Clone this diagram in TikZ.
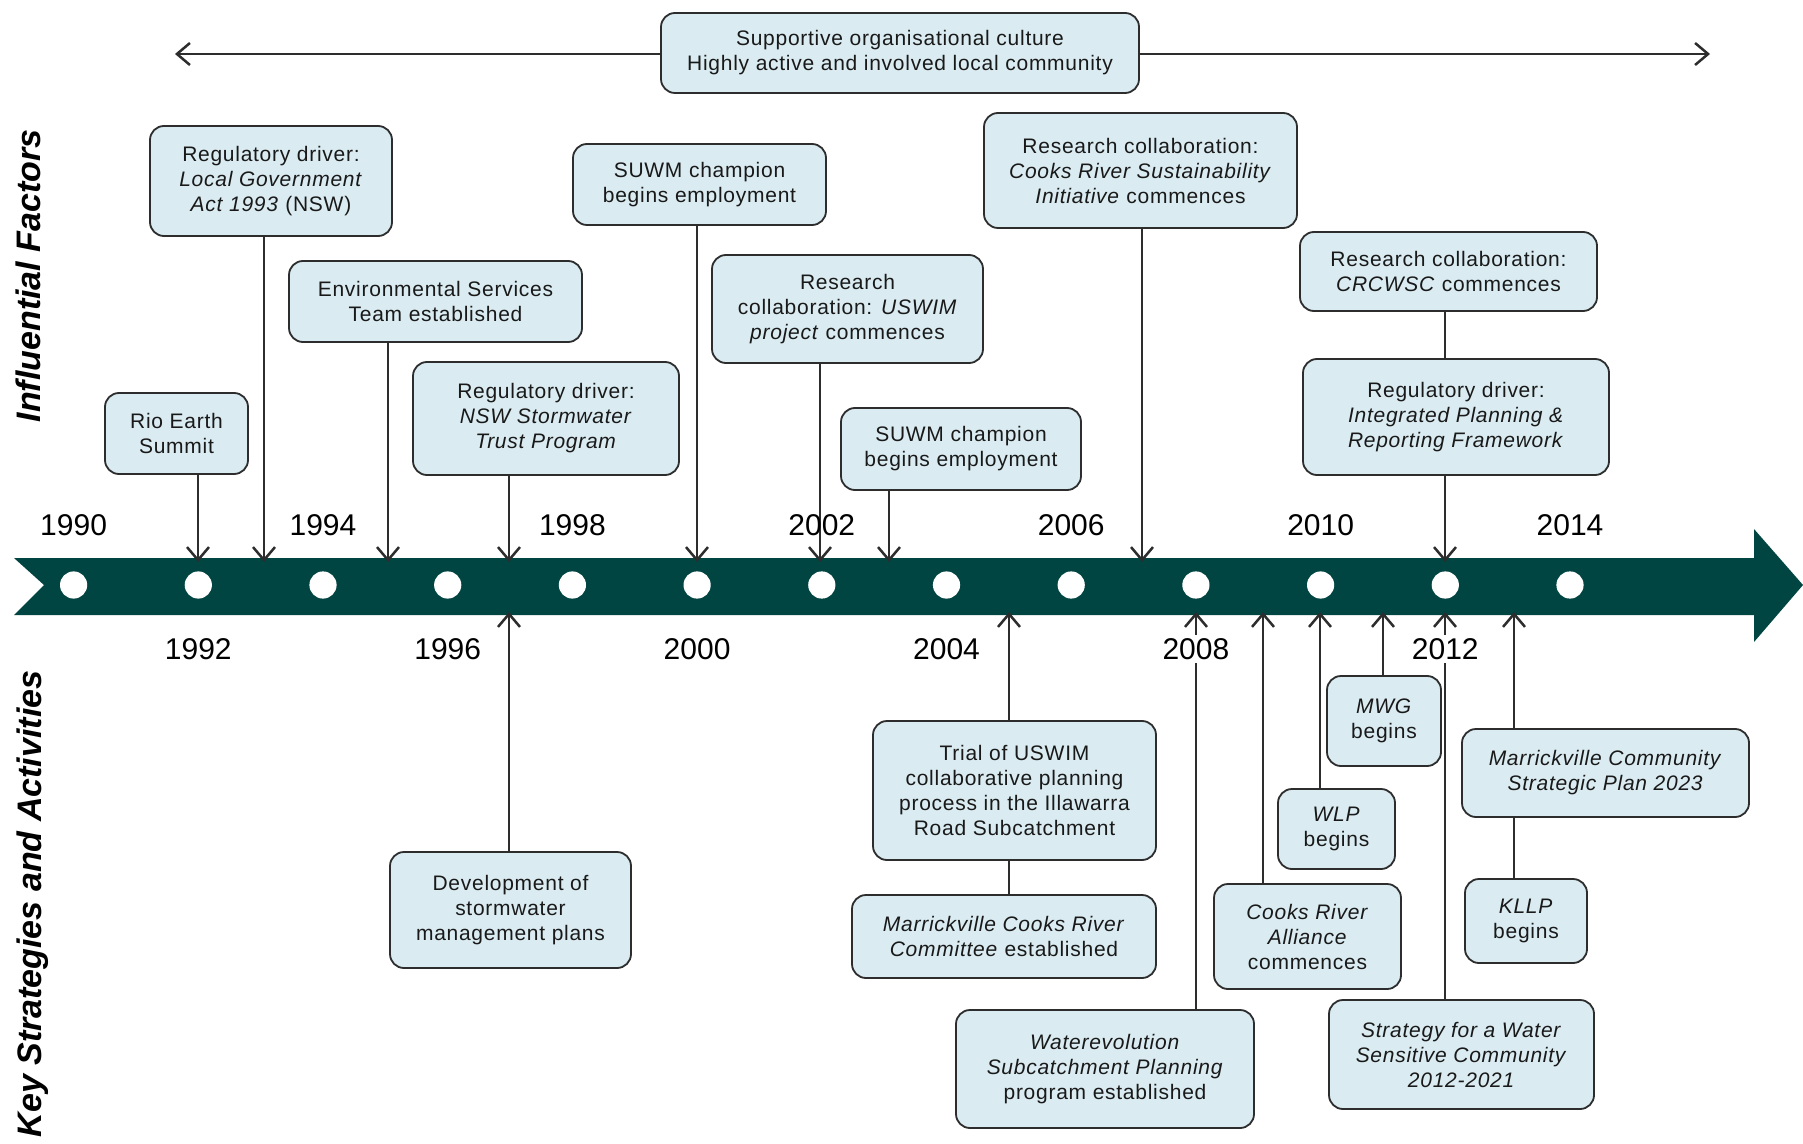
\documentclass[tikz,border=0pt]{standalone}
\usepackage{fontspec}
\setmainfont{Liberation Sans}
\newfontfamily\boxfont[LetterSpace=3.5]{Liberation Sans}
\usetikzlibrary{arrows.meta}
\definecolor{bandc}{RGB}{0,69,66}
\definecolor{boxfill}{RGB}{218,236,242}
\definecolor{boxline}{RGB}{45,45,45}
\definecolor{txt}{RGB}{25,25,25}
\begin{document}
\begin{tikzpicture}[x=0.5pt,y=-0.5pt,
  ev/.style={draw=boxline, fill=boxfill, rounded corners=7pt, line width=0.9pt, align=center,
    font=\boxfont\fontsize{10.5}{12.5}\selectfont, text=txt, inner sep=2pt},
  conn/.style={draw=boxline, line width=0.85pt},
  arr/.style={conn, -{Straight Barb[length=6.5pt,width=11pt,line width=1.25pt]}},
  yr/.style={font=\fontsize{15}{18}\selectfont, text=black, inner sep=1.5pt},
  side/.style={rotate=90, font=\fontsize{17}{20}\selectfont\bfseries\itshape}]
\useasboundingbox (0,0) rectangle (1803,1144);
\fill[white] (0,0) rectangle (1803,1144);
% band
\fill[bandc] (14,558) -- (1754,558) -- (1754,529) -- (1803,585) -- (1754,642) -- (1754,615) -- (14,615) -- (44,585) -- cycle;
\foreach \i in {0,...,12} {
  \fill[white] (73.6+124.7*\i,585) circle[radius=6.8pt];
}
% band coordinates
\coordinate (t92) at (198,562);
\coordinate (t93) at (264,562);
\coordinate (t95) at (388,562);
\coordinate (t97) at (509,562);
\coordinate (t00) at (697,562);
\coordinate (t02) at (820,562);
\coordinate (t03) at (889,562);
\coordinate (t07) at (1142,562);
\coordinate (t12) at (1445,562);
\coordinate (b97) at (509,612);
\coordinate (b05) at (1009,612);
\coordinate (b08) at (1196,612);
\coordinate (b09) at (1263,612);
\coordinate (b10) at (1320,612);
\coordinate (b11) at (1383,612);
\coordinate (b12) at (1445,612);
\coordinate (b13) at (1514,612);
\coordinate (la) at (175,54);
\coordinate (ra) at (1710,54);
% top boxes
\node[ev, minimum width=239pt, minimum height=40pt] (top) at (900,53) {Supportive organisational culture\\Highly active and involved local community};
\node[ev, minimum width=71.5pt, minimum height=40.5pt] (rio) at (176.5,433.5) {Rio Earth\\Summit};
\node[ev, minimum width=121pt, minimum height=55pt] (lga) at (271,181) {Regulatory driver:\\\textit{Local Government}\\\textit{Act 1993} (NSW)};
\node[ev, minimum width=146.5pt, minimum height=40.5pt] (env) at (435.5,301.5) {Environmental Services\\Team established};
\node[ev, minimum width=133pt, minimum height=56.5pt] (nsw) at (546,418.5) {Regulatory driver:\\\textit{NSW Stormwater}\\\textit{Trust Program}};
\node[ev, minimum width=126.5pt, minimum height=40.5pt] (suwma) at (699.5,184.5) {SUWM champion\\begins employment};
\node[ev, minimum width=135.5pt, minimum height=54pt] (uswim) at (847.5,309) {Research\\collaboration: \textit{USWIM}\\\textit{project} commences};
\node[ev, minimum width=120pt, minimum height=41pt] (suwmb) at (961,449) {SUWM champion\\begins employment};
\node[ev, minimum width=156.5pt, minimum height=57.5pt] (crsi) at (1140.5,170.5) {Research collaboration:\\\textit{Cooks River Sustainability}\\\textit{Initiative} commences};
\node[ev, minimum width=148.5pt, minimum height=39.5pt] (crc) at (1448.5,271.5) {Research collaboration:\\\textit{CRCWSC} commences};
\node[ev, minimum width=153pt, minimum height=58pt] (iprf) at (1456,417) {Regulatory driver:\\\textit{Integrated Planning \&}\\\textit{Reporting Framework}};
% bottom boxes
\node[ev, minimum width=120.5pt, minimum height=58pt] (dev) at (510.5,910) {Development of\\stormwater\\management plans};
\node[ev, minimum width=141.5pt, minimum height=69.5pt] (trial) at (1014.5,790.5) {Trial of USWIM\\collaborative planning\\process in the Illawarra\\Road Subcatchment};
\node[ev, minimum width=152pt, minimum height=41.5pt] (mcrc) at (1004,936.5) {\textit{Marrickville Cooks River}\\\textit{Committee} established};
\node[ev, minimum width=149pt, minimum height=59pt] (water) at (1105,1069) {\textit{Waterevolution}\\\textit{Subcatchment Planning}\\program established};
\node[ev, minimum width=93.5pt, minimum height=52.5pt] (cra) at (1307.5,936.5) {\textit{Cooks River}\\\textit{Alliance}\\commences};
\node[ev, minimum width=58.5pt, minimum height=40pt] (wlp) at (1336.5,829) {\textit{WLP}\\begins};
\node[ev, minimum width=57pt, minimum height=45pt] (mwg) at (1384,721) {\textit{MWG}\\begins};
\node[ev, minimum width=132.5pt, minimum height=54.5pt] (swsc) at (1461.5,1054.5) {\textit{Strategy for a Water}\\\textit{Sensitive Community}\\\textit{2012-2021}};
\node[ev, minimum width=143.5pt, minimum height=44pt] (mcsp) at (1605.5,773) {\textit{Marrickville Community}\\\textit{Strategic Plan 2023}};
\node[ev, minimum width=61pt, minimum height=42pt] (kllp) at (1526,921) {\textit{KLLP}\\begins};
% connectors
\draw[arr] (top.west |- la) -- (la);
\draw[arr] (top.east |- ra) -- (ra);
\draw[arr] (rio.south -| t92) -- (t92);
\draw[arr] (lga.south -| t93) -- (t93);
\draw[arr] (env.south -| t95) -- (t95);
\draw[arr] (nsw.south -| t97) -- (t97);
\draw[arr] (suwma.south -| t00) -- (t00);
\draw[arr] (uswim.south -| t02) -- (t02);
\draw[arr] (suwmb.south -| t03) -- (t03);
\draw[arr] (crsi.south -| t07) -- (t07);
\draw[conn] (crc.south -| t12) -- (iprf.north -| t12);
\draw[arr] (iprf.south -| t12) -- (t12);
\draw[arr] (dev.north -| b97) -- (b97);
\draw[arr] (trial.north -| b05) -- (b05);
\draw[conn] (trial.south -| b05) -- (mcrc.north -| b05);
\draw[arr] (water.north -| b08) -- (b08);
\draw[arr] (cra.north -| b09) -- (b09);
\draw[arr] (wlp.north -| b10) -- (b10);
\draw[arr] (mwg.north -| b11) -- (b11);
\draw[arr] (swsc.north -| b12) -- (b12);
\draw[arr] (mcsp.north -| b13) -- (b13);
\draw[conn] (mcsp.south -| b13) -- (kllp.north -| b13);
% years
\foreach \y/\i in {1990/0,1994/2,1998/4,2002/6,2006/8,2010/10,2014/12} {
  \node[yr] (y\y) at (73.6+124.7*\i,525) {\y};
}
\foreach \y/\i in {1992/1,1996/3,2000/5,2004/7,2008/9,2012/11} {
  \node[yr, fill=white] (y\y) at (73.6+124.7*\i,649) {\y};
}
% side labels
\node[side] (lblif) at (28,276) {Influential Factors};
\node[side] (lblks) at (33,904) {Key Strategies and Activities};
\end{tikzpicture}
\end{document}
